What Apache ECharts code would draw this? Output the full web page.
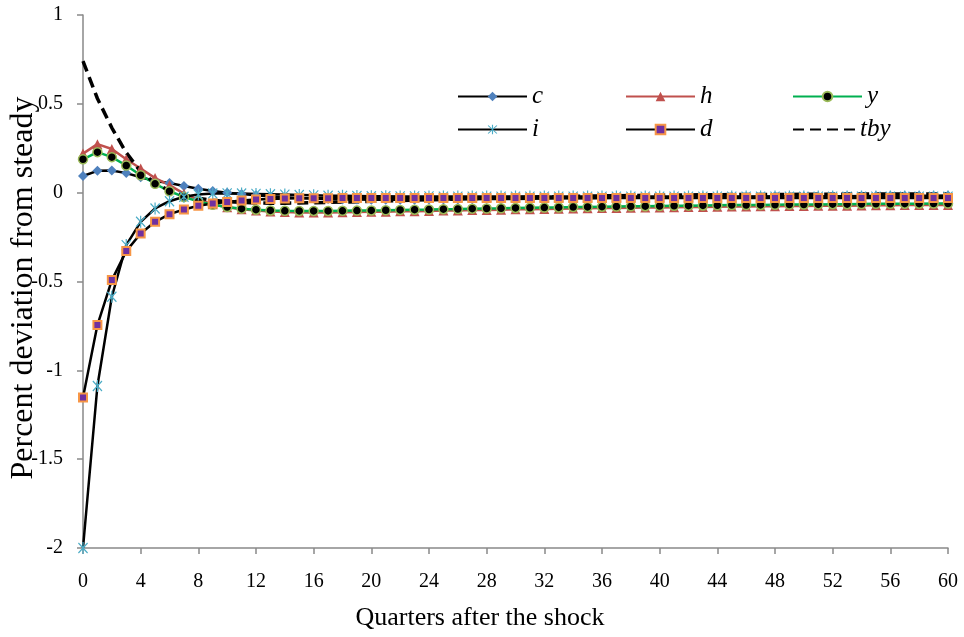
<!DOCTYPE html>
<html>
<head>
<meta charset="utf-8">
<script src="https://cdn.jsdelivr.net/npm/echarts@6/dist/echarts.min.js"></script>
<style>
  html, body { margin: 0; padding: 0; background: #fff; }
  #chart { width: 964px; height: 637px; }
</style>
</head>
<body>
<div id="chart"></div>
<script>
// Impulse responses, quarters 0..60 (percent deviation from steady state)
const quarters = Array.from({ length: 61 }, (_, k) => k);
const xTicks = [0, 4, 8, 12, 16, 20, 24, 28, 32, 36, 40, 44, 48, 52, 56, 60];

const cVals = [
  0.094, 0.123, 0.125, 0.110, 0.087, 0.066, 0.054, 0.038, 0.022, 0.009,
  0.000, -0.008, -0.015, -0.021, -0.026, -0.030, -0.033, -0.036, -0.038, -0.039,
  -0.040, -0.040, -0.040, -0.040, -0.039, -0.039, -0.038, -0.037, -0.036, -0.036,
  -0.035, -0.034, -0.033, -0.032, -0.032, -0.031, -0.030, -0.029, -0.029, -0.028,
  -0.027, -0.027, -0.026, -0.025, -0.025, -0.024, -0.024, -0.023, -0.022, -0.022,
  -0.021, -0.021, -0.020, -0.020, -0.019, -0.019, -0.018, -0.018, -0.017, -0.017,
  -0.016
];
const hVals = [
  0.220, 0.273, 0.246, 0.188, 0.136, 0.082, 0.042, -0.005, -0.040, -0.065,
  -0.082, -0.093, -0.101, -0.106, -0.109, -0.111, -0.111, -0.111, -0.110, -0.109,
  -0.108, -0.107, -0.105, -0.104, -0.103, -0.101, -0.100, -0.098, -0.097, -0.096,
  -0.094, -0.093, -0.092, -0.091, -0.089, -0.088, -0.087, -0.086, -0.085, -0.084,
  -0.083, -0.082, -0.081, -0.080, -0.079, -0.078, -0.078, -0.077, -0.076, -0.075,
  -0.075, -0.074, -0.073, -0.073, -0.072, -0.071, -0.071, -0.070, -0.070, -0.069,
  -0.069
];
const yVals = [
  0.188, 0.228, 0.200, 0.153, 0.098, 0.050, 0.008, -0.024, -0.050, -0.068,
  -0.081, -0.090, -0.096, -0.100, -0.102, -0.103, -0.103, -0.103, -0.102, -0.101,
  -0.100, -0.099, -0.097, -0.096, -0.095, -0.093, -0.092, -0.090, -0.089, -0.088,
  -0.086, -0.085, -0.084, -0.083, -0.081, -0.080, -0.079, -0.078, -0.077, -0.076,
  -0.075, -0.074, -0.073, -0.072, -0.071, -0.070, -0.070, -0.069, -0.068, -0.067,
  -0.067, -0.066, -0.065, -0.065, -0.064, -0.063, -0.063, -0.062, -0.062, -0.061,
  -0.061
];
const iVals = [
  -2.000, -1.088, -0.586, -0.295, -0.164, -0.089, -0.048, -0.023, -0.010, -0.005,
  -0.004, -0.005, -0.007, -0.009, -0.011, -0.013, -0.015, -0.017, -0.018, -0.019,
  -0.020, -0.020, -0.021, -0.021, -0.021, -0.022, -0.022, -0.022, -0.022, -0.022,
  -0.022, -0.022, -0.022, -0.022, -0.022, -0.022, -0.022, -0.022, -0.022, -0.022,
  -0.022, -0.022, -0.022, -0.022, -0.022, -0.022, -0.022, -0.022, -0.022, -0.022,
  -0.022, -0.022, -0.022, -0.022, -0.022, -0.022, -0.022, -0.022, -0.022, -0.022,
  -0.022
];
const dVals = [
  -1.153, -0.745, -0.492, -0.329, -0.230, -0.164, -0.121, -0.095, -0.074, -0.061,
  -0.052, -0.044, -0.039, -0.035, -0.033, -0.032, -0.031, -0.031, -0.030, -0.030,
  -0.030, -0.030, -0.030, -0.030, -0.030, -0.030, -0.030, -0.030, -0.030, -0.030,
  -0.030, -0.030, -0.030, -0.030, -0.030, -0.030, -0.030, -0.030, -0.030, -0.030,
  -0.030, -0.030, -0.030, -0.030, -0.030, -0.030, -0.030, -0.030, -0.030, -0.030,
  -0.030, -0.030, -0.030, -0.030, -0.030, -0.030, -0.030, -0.030, -0.030, -0.030,
  -0.030
];
const tbyVals = [
  0.740, 0.530, 0.365, 0.225, 0.118, 0.052, 0.012, -0.014, -0.031, -0.043,
  -0.050, -0.055, -0.058, -0.059, -0.059, -0.058, -0.057, -0.055, -0.053, -0.051,
  -0.049, -0.047, -0.044, -0.042, -0.040, -0.038, -0.035, -0.033, -0.031, -0.029,
  -0.027, -0.025, -0.023, -0.022, -0.020, -0.019, -0.018, -0.017, -0.016, -0.015,
  -0.014, -0.013, -0.013, -0.012, -0.012, -0.011, -0.011, -0.010, -0.010, -0.010,
  -0.009, -0.009, -0.009, -0.008, -0.008, -0.008, -0.008, -0.007, -0.007, -0.007,
  -0.007
];

const SERIF = 'Liberation Serif';
const pairs = vals => quarters.map((q, k) => [q, vals[k]]);

// six-armed star marker (X plus a vertical bar)
const STAR = 'path://M-1.3,-12L1.3,-12L1.3,12L-1.3,12Z' +
  'M-10.9,-9.1L-9.1,-10.9L10.9,9.1L9.1,10.9Z' +
  'M-9.1,10.9L-10.9,9.1L9.1,-10.9L10.9,-9.1Z';

const lineSeries = (name, vals, extra) => Object.assign({
  name: name,
  type: 'line',
  data: pairs(vals),
  showSymbol: true,
  smooth: false,
  animation: false,
  emphasis: { disabled: true }
}, extra);

const series = [
  lineSeries('c', cVals, {
    symbol: 'diamond', symbolSize: 10,
    itemStyle: { color: '#4F81BD' },
    lineStyle: { color: '#000', width: 2.5 }
  }),
  lineSeries('h', hVals, {
    symbol: 'triangle', symbolSize: 10,
    itemStyle: { color: '#C0504D' },
    lineStyle: { color: '#C0504D', width: 2.5 }
  }),
  lineSeries('y', yVals, {
    symbol: 'circle', symbolSize: 9,
    itemStyle: { color: '#000', borderColor: '#9BBB59', borderWidth: 1.5 },
    lineStyle: { color: '#00B050', width: 2.5 }
  }),
  lineSeries('i', iVals, {
    symbol: STAR, symbolSize: [11, 12], symbolKeepAspect: true,
    itemStyle: { color: '#4BACC6' },
    lineStyle: { color: '#000', width: 2.5 }
  }),
  lineSeries('d', dVals, {
    symbol: 'rect', symbolSize: 8,
    itemStyle: { color: '#7030A0', borderColor: '#F79646', borderWidth: 2 },
    lineStyle: { color: '#000', width: 2.5 }
  }),
  lineSeries('tby', tbyVals, {
    symbol: 'none', showSymbol: false,
    itemStyle: { color: '#000' },
    lineStyle: { color: '#000', width: 3.5, type: [11, 6] }
  })
];

// legend entries laid out on a 3 x 2 grid
const legendSlots = [
  ['c', 457, 84], ['h', 625, 84], ['y', 792, 84],
  ['i', 457, 117], ['d', 625, 117], ['tby', 792, 117]
];
const legends = legendSlots.map(([name, left, top]) => {
  const entry = {
    data: [name],
    left: left,
    top: top,
    padding: 0,
    itemWidth: 69,
    itemHeight: 12,
    selectedMode: false,
    textStyle: { fontFamily: SERIF, fontStyle: 'italic', fontSize: 25, color: '#000' }
  };
  // the dashed series carries no marker: hide the legend symbol, keep the line
  if (name === 'tby') {
    entry.itemStyle = { opacity: 0 };
    entry.itemWidth = 62;
  }
  return entry;
});

const chart = echarts.init(document.getElementById('chart'), null, { renderer: 'canvas' });
chart.setOption({
  animation: false,
  backgroundColor: '#fff',
  grid: { left: 83, right: 16, top: 15, bottom: 89, containLabel: false },
  legend: legends,
  xAxis: {
    type: 'value',
    min: xTicks[0],
    max: xTicks[xTicks.length - 1],
    interval: 4,
    axisLine: { onZero: false, lineStyle: { color: '#898989', width: 1.5 } },
    axisTick: { show: true, inside: false, length: 6, lineStyle: { color: '#898989', width: 1.5 } },
    axisLabel: { margin: 24, fontFamily: SERIF, fontSize: 20, color: '#000' },
    splitLine: { show: false }
  },
  yAxis: {
    type: 'value',
    min: -2,
    max: 1,
    interval: 0.5,
    axisLine: { show: true, onZero: false, lineStyle: { color: '#898989', width: 1.5 } },
    axisTick: { show: true, inside: false, length: 6, lineStyle: { color: '#898989', width: 1.5 } },
    axisLabel: { margin: 20, fontFamily: SERIF, fontSize: 20, color: '#000' },
    splitLine: { show: false }
  },
  graphic: [
    {
      type: 'text', x: 480, y: 618,
      style: {
        text: 'Quarters after the shock', fontFamily: SERIF, fontSize: 26,
        fill: '#000', align: 'center', verticalAlign: 'middle'
      }
    },
    {
      type: 'text', x: 24, y: 288, rotation: Math.PI / 2,
      style: {
        text: 'Percent deviation from steady', fontFamily: SERIF, fontSize: 32,
        fill: '#000', align: 'center', verticalAlign: 'middle'
      }
    }
  ],
  series: series
});
</script>
</body>
</html>
